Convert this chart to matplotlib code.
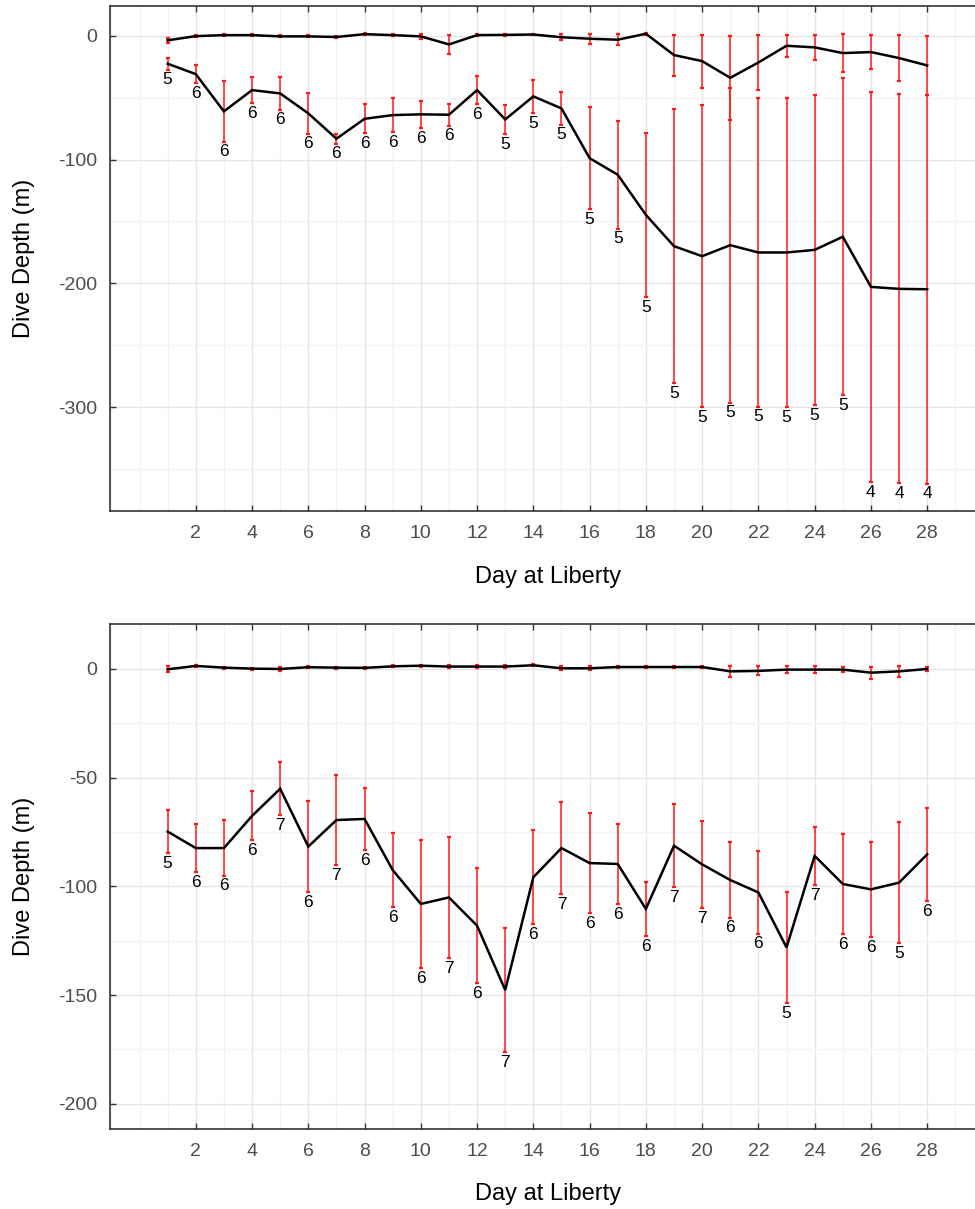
import matplotlib
matplotlib.use("Agg")
import matplotlib.pyplot as plt
from matplotlib.ticker import MultipleLocator, FixedLocator

plt.rcParams["font.family"] = ["Liberation Sans", "DejaVu Sans"]
plt.rcParams["axes.unicode_minus"] = False

days = list(range(1, 29))
x_ticks = list(range(2, 29, 2))

# Upper panel
shallow1_mean = [-3.7, -0.3, 0.5, 0.5, -0.5, -0.5, -1.0, 1.3, 0.5, -0.5, -7.0, 0.5, 0.7, 1.0,
                 -1.2, -2.4, -3.2, 1.6, -15.6, -20.5, -34.0, -21.6, -8.1, -9.4, -14.0, -13.2, -18.0, -24.0]
shallow1_err = [2.0, 0.6, 0.6, 0.6, 0.8, 0.8, 1.2, 0.6, 0.6, 1.8, 7.5, 0.6, 0.6, 0.6,
                2.3, 4.0, 4.6, 0.6, 16.6, 21.5, 34.0, 22.3, 9.0, 10.2, 15.2, 14.0, 18.8, 24.0]
deep1_mean = [-22.6, -31.0, -61.1, -43.9, -46.6, -62.7, -83.2, -67.1, -64.1, -63.5, -63.8, -43.9, -67.6, -49.0,
              -58.7, -98.9, -112.3, -144.7, -170.0, -178.1, -169.2, -175.1, -175.1, -173.0, -162.4, -202.9, -204.5, -204.8]
deep1_err = [4.7, 7.4, 24.4, 10.8, 13.0, 16.4, 3.9, 11.6, 14.0, 11.0, 8.8, 11.6, 11.8, 13.2,
             13.1, 41.2, 43.6, 66.5, 110.5, 122.0, 127.2, 124.5, 125.0, 125.5, 128.0, 157.5, 157.1, 157.0]
deep1_n = [5, 6, 6, 6, 6, 6, 6, 6, 6, 6, 6, 6, 5, 5, 5, 5, 5, 5, 5, 5, 5, 5, 5, 5, 5, 4, 4, 4]

# Lower panel
shallow2_mean = [-0.15, 1.4, 0.6, 0.15, 0.0, 0.8, 0.6, 0.5, 1.2, 1.5, 1.1, 1.1, 1.1, 1.7,
                 0.3, 0.3, 0.9, 0.9, 0.9, 0.9, -1.1, -0.9, -0.3, -0.3, -0.3, -1.7, -1.1, 0.0]
shallow2_err = [1.4, 0.5, 0.5, 0.5, 0.8, 0.5, 0.5, 0.5, 0.5, 0.5, 0.5, 0.5, 0.5, 0.5,
                0.9, 0.9, 0.5, 0.5, 0.5, 0.5, 2.4, 2.1, 1.6, 1.5, 1.1, 2.7, 2.4, 1.0]
deep2_mean = [-74.8, -82.4, -82.4, -67.6, -55.1, -81.7, -69.5, -69.0, -92.5, -108.1, -105.1, -118.1, -147.7, -95.8,
              -82.4, -89.3, -89.7, -110.4, -81.3, -89.9, -97.1, -102.8, -128.1, -86.0, -98.9, -101.4, -98.3, -85.3]
deep2_err = [9.9, 11.1, 12.7, 11.3, 12.3, 21.0, 20.6, 14.2, 17.0, 29.5, 28.0, 26.4, 28.7, 21.5,
             21.0, 23.0, 18.5, 12.6, 19.0, 20.0, 17.3, 18.9, 25.5, 13.5, 23.0, 21.9, 27.7, 21.5]
deep2_n = [5, 6, 6, 6, 7, 6, 7, 6, 6, 6, 7, 6, 7, 6, 7, 6, 6, 6, 7, 7, 6, 6, 5, 7, 6, 6, 5, 6]

SPINE = "#333333"
TICKLABEL = "#4d4d4d"


def draw_panel(ax, s_mean, s_err, d_mean, d_err, counts, ylim, ymajor, yminor):
    for mean, err in ((s_mean, s_err), (d_mean, d_err)):
        ax.errorbar(days, mean, yerr=err, fmt="none", ecolor="#ff1a1a",
                    elinewidth=1.1, capsize=1.5, capthick=1.6, zorder=3)
    ax.plot(days, s_mean, color="black", lw=1.8, zorder=4, solid_joinstyle="miter")
    ax.plot(days, d_mean, color="black", lw=1.8, zorder=4, solid_joinstyle="miter")

    for d, m, e, n in zip(days, d_mean, d_err, counts):
        ax.annotate(str(n), xy=(d, m - e), xytext=(0, -2), textcoords="offset points",
                    ha="center", va="top", fontsize=12.5, color="black", zorder=5)

    ax.set_xlim(-1.05, 29.7)
    ax.set_ylim(*ylim)
    ax.xaxis.set_major_locator(FixedLocator(x_ticks))
    ax.xaxis.set_minor_locator(MultipleLocator(1))
    ax.yaxis.set_major_locator(MultipleLocator(ymajor))
    ax.yaxis.set_minor_locator(MultipleLocator(yminor))

    ax.set_axisbelow(True)
    ax.grid(which="major", color="#e6e6e6", lw=1.0)
    ax.grid(which="minor", color="#f2f2f2", lw=1.0)

    ax.spines["right"].set_visible(False)
    for side in ("left", "top", "bottom"):
        ax.spines[side].set_color(SPINE)
        ax.spines[side].set_linewidth(1.2)

    ax.tick_params(axis="x", which="major", direction="in", top=True, bottom=True,
                   length=4, width=1, color=SPINE, labelsize=14,
                   labelcolor=TICKLABEL, pad=10)
    ax.tick_params(axis="y", which="major", direction="in", left=True,
                   length=4, width=1, color=SPINE, labelsize=14,
                   labelcolor=TICKLABEL, pad=9)
    ax.tick_params(which="minor", length=0)

    ax.set_xlabel("Day at Liberty", fontsize=17, color="black")
    ax.xaxis.set_label_coords(0.506, -0.108)
    ax.set_ylabel("Dive Depth (m)", fontsize=17, color="black")
    ax.yaxis.set_label_coords(-0.0867, 0.5)


fig = plt.figure(figsize=(9.75, 12.09), dpi=100)
ax_top = fig.add_axes([0.1128, 0.5773, 0.8872, 0.4177])
ax_bot = fig.add_axes([0.1128, 0.0664, 0.8872, 0.4175])

draw_panel(ax_top, shallow1_mean, shallow1_err, deep1_mean, deep1_err, deep1_n,
           (-384, 24), 100, 50)
draw_panel(ax_bot, shallow2_mean, shallow2_err, deep2_mean, deep2_err, deep2_n,
           (-211.5, 20.7), 50, 25)

fig.savefig("out.png", dpi=100)
